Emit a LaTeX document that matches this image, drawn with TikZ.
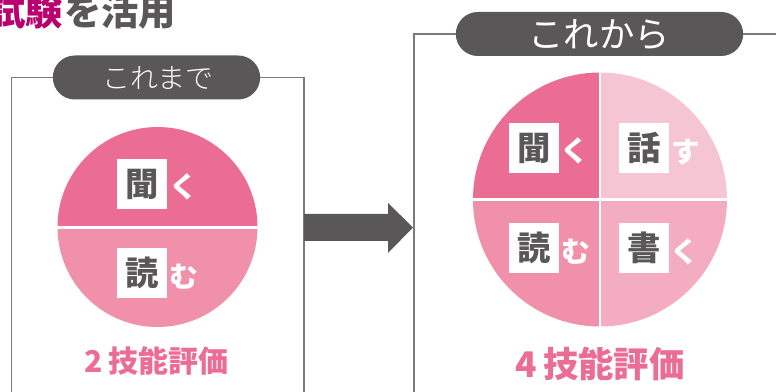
\documentclass[tikz,border=0pt]{standalone}
\usepackage{fontspec}
\setmainfont{Noto Sans CJK JP}
\newfontfamily\jpbold{Noto Sans CJK JP Black}
\newfontfamily\jpheavy{Noto Sans CJK JP Black}
\newfontfamily\jplight{Noto Sans CJK JP Light}
\newfontfamily\jpreg{Noto Sans CJK JP}
\definecolor{darkgrey}{HTML}{5A5758}
\definecolor{framegrey}{HTML}{7A7A7A}
\definecolor{pinka}{HTML}{EC6D94}
\definecolor{pinkb}{HTML}{F090AA}
\definecolor{pinkc}{HTML}{F6C5D3}
\definecolor{pinkd}{HTML}{F4ADC0}
\definecolor{crimson}{HTML}{B9006E}
\tikzset{
  framebox/.style={draw=framegrey,line width=1.3pt},
  pill/.style={fill=darkgrey,rounded corners=16.5pt,inner sep=0pt,text=white},
  whitesq/.style={fill=white,minimum size=37.5pt,inner sep=0pt,text=darkgrey,font=\jpbold\fontsize{25pt}{25pt}\selectfont},
  kana/.style={inner sep=0pt,text=white,font=\jpheavy\fontsize{21.5pt}{21.5pt}\selectfont},
  divider/.style={white,line width=1.9pt},
}
\begin{document}
\begin{tikzpicture}[x=0.75pt,y=-0.75pt]
\useasboundingbox (0,0) rectangle (776,392);
\clip (0,0) rectangle (776,392);
% title
\node[inner sep=0pt,anchor=east,text=crimson,font=\jpheavy\fontsize{28pt}{28pt}\selectfont] (ttla) at (63,11) {試験};
\node[inner sep=0pt,anchor=west,text=darkgrey,font=\jpheavy\fontsize{28pt}{28pt}\selectfont] (ttlb) at (64,11) {を活用};
% left frame
\coordinate (lbl) at (11.5,392);
\coordinate (lbr) at (304,392);
\node[pill,minimum width=155.5pt,minimum height=33pt] (pl) at (156.5,77.5) {};
\node[inner sep=0pt,text=white,font=\jplight\fontsize{21pt}{21pt}\selectfont] (plt) at (158,78) {これまで};
\draw[framebox] (pl.west) -| (lbl);
\draw[framebox] (pl.east) -| (lbr);
% left circle
\fill[pinka] (57.5,227) arc[start angle=180,end angle=360,radius=100] -- cycle;
\fill[pinkb] (57.5,227) arc[start angle=180,end angle=0,radius=100] -- cycle;
\draw[divider] (57,227.5) -- (258,227.5);
\node[whitesq] (a1) at (142,184) {聞};
\node[whitesq] (a2) at (142,273) {読};
\node[kana] (k1) at (184,187) {く};
\node[kana] (k2) at (184,277) {む};
\node[inner sep=0pt,text=pinka,font=\jpheavy\fontsize{22.5pt}{22.5pt}\selectfont] (lt) at (156.5,361) {2\,技能評価};
% arrow
\fill[darkgrey] (304,214) -- (388,214) -- (388,203) -- (413,227.5) -- (388,253) -- (388,241) -- (304,241) -- cycle;
% right frame
\coordinate (rbl) at (414,392);
\coordinate (rbr) at (776,34);
\node[pill,minimum width=215.5pt,minimum height=33pt] (pr) at (599.5,34) {};
\node[inner sep=0pt,text=white,font=\jpreg\fontsize{26.5pt}{26.5pt}\selectfont] (prt) at (599,35) {これから};
\draw[framebox] (pr.west) -| (rbl);
\draw[framebox] (pr.east) -- (rbr);
% right circle
\coordinate (cr) at (600,199.5);
\fill[pinka] (cr) -- (473,199.5) arc[start angle=180,end angle=270,radius=127] -- cycle;
\fill[pinkc] (cr) -- (600,72.5) arc[start angle=270,end angle=360,radius=127] -- cycle;
\fill[pinkd] (cr) -- (727,199.5) arc[start angle=0,end angle=90,radius=127] -- cycle;
\fill[pinkb] (cr) -- (600,326.5) arc[start angle=90,end angle=180,radius=127] -- cycle;
\draw[divider] (473,199.5) -- (727,199.5);
\draw[divider] (600,72) -- (600,327);
\node[whitesq] (b1) at (534,148) {聞};
\node[whitesq] (b2) at (644,148) {話};
\node[whitesq] (b3) at (534,248) {読};
\node[whitesq] (b4) at (644,248) {書};
\node[kana] (m1) at (575,151) {く};
\node[kana] (m2) at (686,152) {す};
\node[kana] (m3) at (576,252) {む};
\node[kana] (m4) at (685,252) {く};
\node[inner sep=0pt,text=pinka,font=\jpheavy\fontsize{26.5pt}{26.5pt}\selectfont] (rt) at (600,364) {4\,技能評価};
\end{tikzpicture}
\end{document}
